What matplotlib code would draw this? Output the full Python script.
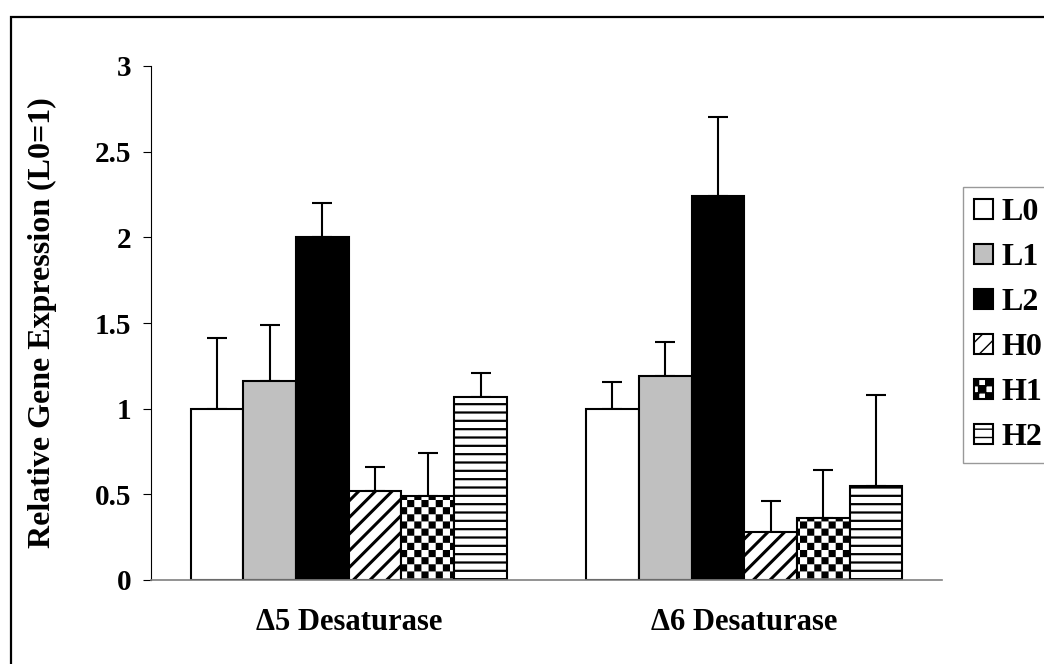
import numpy as np
import matplotlib; matplotlib.use("Agg")
import matplotlib.pyplot as plt
from matplotlib import hatch as mhatch
from matplotlib.path import Path
from matplotlib.patches import Rectangle

plt.rcParams.update({"font.family": "Liberation Serif", "font.weight": "bold",
                     "axes.labelweight": "bold", "font.size": 21})

genes = ["\u03945 Desaturase", "\u03946 Desaturase"]
groups = ["L0", "L1", "L2", "H0", "H1", "H2"]
d5_mean = [1.00, 1.16, 2.00, 0.52, 0.49, 1.07]
d5_err = [0.41, 0.33, 0.20, 0.14, 0.25, 0.14]
d6_mean = [1.00, 1.19, 2.24, 0.28, 0.36, 0.55]
d6_err = [0.155, 0.20, 0.46, 0.18, 0.28, 0.53]


# checkerboard fill, hooked in place of the star hatch ("*")
class CheckerHatch(mhatch.HatchPatternBase):
    filled = True

    def __init__(self, hatch, density):
        self.n = 14 * hatch.count("*")
        self.num_vertices = (self.n * self.n // 2) * 5

    def set_vertices_and_codes(self, vertices, codes):
        s = 1.0 / self.n
        k = 0
        for i in range(self.n):
            for j in range(self.n):
                if (i + j) % 2:
                    continue
                x0, y0 = i * s, j * s
                vertices[k:k + 5] = [(x0, y0), (x0 + s, y0), (x0 + s, y0 + s),
                                     (x0, y0 + s), (x0, y0)]
                codes[k:k + 5] = [Path.MOVETO, Path.LINETO, Path.LINETO,
                                  Path.LINETO, Path.CLOSEPOLY]
                k += 5

mhatch._hatch_types = [CheckerHatch if h is mhatch.Stars else h
                       for h in mhatch._hatch_types]

faces = ["white", "#c0c0c0", "black", "white", "white", "white"]
hatches = [None, None, None, "//", "*", "--"]
hatch_lw = [1.0, 1.0, 1.0, 2.2, 0.01, 1.6]

fig = plt.figure(figsize=(10.44, 6.64), dpi=100)
ax = fig.add_axes([151/1044, 1-580/664, 791/1044, 514/664])

x = np.arange(len(genes)) + 0.5
w = 0.1333
means = np.array([d5_mean, d6_mean])
errs = np.array([d5_err, d6_err])
handles = []
for i, g in enumerate(groups):
    with plt.rc_context({"hatch.linewidth": hatch_lw[i]}):
        bars = ax.bar(x + (i - 2.5) * w, means[:, i], w, color=faces[i],
                      edgecolor="black", linewidth=1.5, hatch=hatches[i],
                      label=g, zorder=2)
    for b in bars:
        if hasattr(b, "set_hatch_linewidth"):
            b.set_hatch_linewidth(hatch_lw[i])
    ax.errorbar(x + (i - 2.5) * w, means[:, i],
                yerr=[np.zeros(len(genes)), errs[:, i]], fmt="none",
                ecolor="black", elinewidth=1.5, capsize=7, capthick=1.5, zorder=1)
    handles.append(bars)

ax.set_xlim(0, 2)
ax.set_ylim(0, 3)
ax.set_yticks([0, 0.5, 1, 1.5, 2, 2.5, 3])
ax.set_yticklabels(["0", "0.5", "1", "1.5", "2", "2.5", "3"])
ax.set_xticks(x)
ax.set_xticklabels(genes, fontsize=22)
ax.tick_params(axis="x", length=0, pad=20)
ax.tick_params(axis="y", direction="out", length=6, width=0.8, pad=8)
for s in ["top", "right"]:
    ax.spines[s].set_visible(False)
ax.spines["left"].set_linewidth(0.8)
ax.spines["bottom"].set_color("#808080")
ax.spines["bottom"].set_linewidth(1.2)
ax.set_ylabel("Relative Gene Expression (L0=1)", fontsize=23)
ax.yaxis.set_label_coords(-0.119, 0.5)

leg = fig.legend(handles, groups, loc="upper left",
                 bbox_to_anchor=(963/1044, 1-187/664), frameon=True,
                 fancybox=False, edgecolor="#808080", handlelength=0.6,
                 handleheight=0.6, handletextpad=0.25, labelspacing=0.5,
                 borderpad=0.35, borderaxespad=0, fontsize=23)
leg.get_frame().set_linewidth(1.0)

# outer frame around the chart area
fig.add_artist(Rectangle((11/1044, -0.1), 1.2, 1.1 - 17/664,
                         transform=fig.transFigure, fill=False,
                         edgecolor="black", linewidth=1.6))

fig.savefig("out.png", dpi=100)
